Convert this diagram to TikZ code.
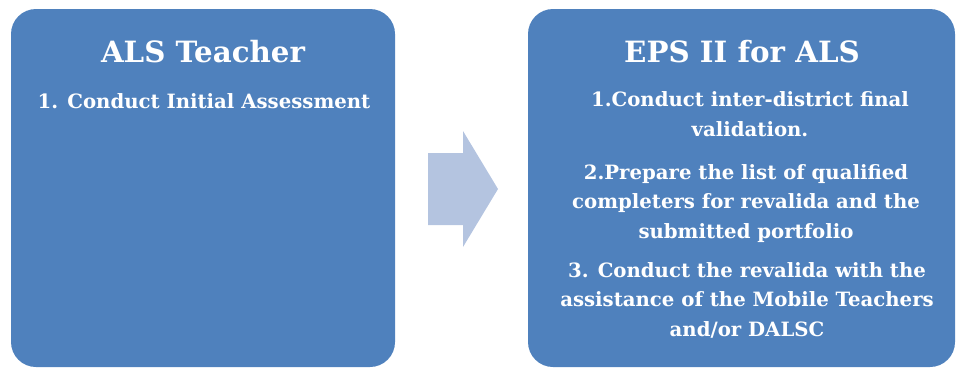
\documentclass[tikz,border=0pt]{standalone}
\usepackage{fontspec}
\setmainfont{DejaVu Serif}
\definecolor{boxblue}{RGB}{79,129,189}
\definecolor{arrowblue}{RGB}{180,196,224}
\tikzset{
  panel/.style={fill=boxblue, draw=none, rounded corners=25pt},
  ttl/.style={text=white, font=\fontsize{29.3}{34}\selectfont\bfseries, anchor=base, inner sep=0pt},
  itm/.style={text=white, font=\fontsize{19.7}{29.5}\selectfont\bfseries, anchor=base, inner sep=0pt, align=center},
}
\begin{document}
\begin{tikzpicture}[x=1pt,y=-1pt]
\useasboundingbox (0,0) rectangle (957,368);
\fill[panel] (11,9) rectangle (395,367);
\fill[panel] (528,9) rectangle (955,367);
\node[ttl] (t1) at (203,62) {ALS Teacher};
\node[itm] (i1) at (204,108) {1. Conduct Initial Assessment};
\node[ttl] (t2) at (742,62) {EPS II for ALS};
\node[itm] (a1) at (750,136) {1.Conduct inter-district final\\validation.};
\node[itm] (a2) at (746,238) {2.Prepare the list of qualified\\completers for revalida and the\\submitted portfolio};
\node[itm] (a3) at (747,336) {3. Conduct the revalida with the\\assistance of the Mobile Teachers\\and/or DALSC};
\fill[arrowblue] (428,153) -- (463,153) -- (463,131) -- (498,189) -- (463,247) -- (463,225) -- (428,225) -- cycle;
\end{tikzpicture}
\end{document}
